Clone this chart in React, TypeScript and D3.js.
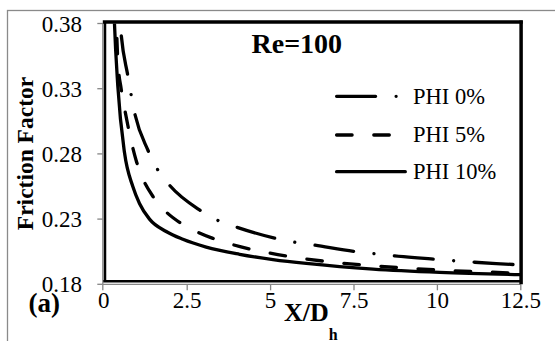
import React, { useRef, useEffect } from 'react';
import * as d3 from 'd3';

// [X/Dh, friction factor]
const phi0: [number, number][] = [
  [0.45, 0.395], [0.52, 0.372], [0.72, 0.340], [0.80, 0.328], [0.92, 0.312],
  [1.32, 0.283], [1.59, 0.269], [1.97, 0.256], [2.87, 0.237], [3.42, 0.229],
  [4.02, 0.2235], [5.12, 0.2154], [5.72, 0.2123], [6.32, 0.2100], [7.52, 0.2052],
  [8.12, 0.2034], [8.72, 0.2018], [9.92, 0.1992], [10.52, 0.1980], [11.12, 0.1969],
  [12.32, 0.1951], [12.5, 0.1948],
];
const phi5: [number, number][] = [
  [0.36, 0.395], [0.42, 0.352], [0.52, 0.330], [0.60, 0.318], [0.72, 0.302],
  [0.82, 0.290], [0.97, 0.275], [1.17, 0.261], [1.47, 0.2475], [1.87, 0.2355],
  [2.27, 0.2275], [2.77, 0.2205], [3.27, 0.2152], [3.82, 0.2107], [4.37, 0.2071],
  [4.92, 0.2042], [5.47, 0.2017], [6.02, 0.1996], [6.57, 0.1978], [7.12, 0.1963],
  [7.67, 0.1950], [8.27, 0.1938], [8.82, 0.1928], [9.37, 0.1919], [9.92, 0.1911],
  [11.57, 0.1893], [12.5, 0.1885],
];
const phi10: [number, number][] = [
  [0.30, 0.395], [0.32, 0.38], [0.42, 0.332], [0.62, 0.281], [0.87, 0.255],
  [1.07, 0.242], [1.37, 0.230], [1.87, 0.2205], [2.37, 0.2145], [3.07, 0.2085],
  [4.07, 0.2030], [5.07, 0.1990], [6.07, 0.1960], [7.07, 0.1936], [8.07, 0.1917],
  [10.07, 0.1892], [12.5, 0.1874],
];

const xTicks = [0, 2.5, 5, 7.5, 10, 12.5];
const yTicks = [0.18, 0.23, 0.28, 0.33, 0.38];
const seriesNames = ['PHI 0%', 'PHI 5%', 'PHI 10%'];
const dashes = ['39,20.5,0.01,20.5', '15.5,21.7', null];
const periods = [80.01, 37.2, 0];
// where a dot (PHI 0%) / a dash start (PHI 5%) sits in the figure
const phaseAnchor = [3.42, 1.87, 0];
const phasePos = [59.5, 37.2 - 1.65, 0];

const serif = "'Liberation Serif', 'Times New Roman', serif";

const App = () => {
  const svgRef = useRef<SVGSVGElement>(null);

  useEffect(() => {
    const width = 555;
    const height = 341;
    const svg = d3.select(svgRef.current)
      .attr('width', width)
      .attr('height', height)
      .style('font-family', serif);
    svg.selectAll('*').remove();

    svg.append('rect').attr('width', width).attr('height', height).attr('fill', '#fff');

    // outer chart frame (runs off the picture at right and bottom)
    svg.append('rect')
      .attr('x', 7.5).attr('y', 10.5)
      .attr('width', 600).attr('height', 400)
      .attr('fill', 'none').attr('stroke', '#8a8a8a').attr('stroke-width', 1.3);

    const x = d3.scaleLinear().domain([0, 12.5]).range([103.8, 520.8]);
    const y = d3.scaleLinear().domain([0.18, 0.38]).range([284.3, 23.5]);

    const gray = '#868686';
    const x0 = x(0), x1 = x(12.5), yb = y(0.18), yt = y(0.38);

    // gray axes
    svg.append('line').attr('x1', x0 - 1).attr('x2', x0 - 1).attr('y1', yt).attr('y2', yb)
      .attr('stroke', gray).attr('stroke-width', 1.3);
    svg.append('line').attr('x1', x0 - 1).attr('x2', x1).attr('y1', yb).attr('y2', yb)
      .attr('stroke', gray).attr('stroke-width', 1.3);

    svg.append('g').selectAll('line').data(yTicks).enter().append('line')
      .attr('x1', x0 - 6.5).attr('x2', x0 - 1)
      .attr('y1', d => y(d)).attr('y2', d => y(d))
      .attr('stroke', gray).attr('stroke-width', 1.3);
    svg.append('g').selectAll('line').data(xTicks).enter().append('line')
      .attr('x1', d => x(d) - (d === 0 ? 1 : 0)).attr('x2', d => x(d) - (d === 0 ? 1 : 0))
      .attr('y1', yb).attr('y2', yb + 6)
      .attr('stroke', gray).attr('stroke-width', 1.3);

    // tick labels
    svg.append('g').selectAll('text').data(yTicks).enter().append('text')
      .attr('x', 82).attr('y', d => y(d) + 8)
      .attr('text-anchor', 'end')
      .style('font-size', '23px')
      .text(d => d.toFixed(2));
    svg.append('g').selectAll('text').data(xTicks).enter().append('text')
      .attr('x', d => x(d)).attr('y', 308.3)
      .attr('text-anchor', 'middle')
      .style('font-size', '23px')
      .text(d => String(d));

    // black plot border
    const border = svg.append('g').attr('stroke', '#000').attr('fill', 'none');
    border.append('line').attr('x1', x0 - 1).attr('x2', x1 + 2).attr('y1', yt - 1.5).attr('y2', yt - 1.5).attr('stroke-width', 3.5);
    border.append('line').attr('x1', x1 + 0.3).attr('x2', x1 + 0.3).attr('y1', yt - 3).attr('y2', yb).attr('stroke-width', 3.5);
    border.append('line').attr('x1', x0 + 1.2).attr('x2', x0 + 1.2).attr('y1', yt - 1.5).attr('y2', yb - 2.5).attr('stroke-width', 2.5);
    border.append('line').attr('x1', x0 - 0.5).attr('x2', x1).attr('y1', yb - 3).attr('y2', yb - 3).attr('stroke-width', 2.5);

    // curves
    svg.append('clipPath').attr('id', 'plotClip')
      .append('rect')
      .attr('x', x0 + 2).attr('y', yt)
      .attr('width', x1 - x0 - 2).attr('height', yb - yt - 4);

    const line = d3.line<[number, number]>()
      .x(d => x(d[0]))
      .y(d => y(d[1]))
      .curve(d3.curveMonotoneX);

    // arc length along a path at which it reaches a given x
    const lengthAtX = (node: SVGPathElement, tx: number) => {
      let lo = 0;
      let hi = node.getTotalLength();
      for (let k = 0; k < 40; k++) {
        const mid = (lo + hi) / 2;
        if (node.getPointAtLength(mid).x < tx) lo = mid; else hi = mid;
      }
      return lo;
    };

    const plot = svg.append('g').attr('clip-path', 'url(#plotClip)');
    [phi0, phi5, phi10].forEach((s, i) => {
      const p = plot.append('path')
        .datum(s)
        .attr('d', line)
        .attr('fill', 'none')
        .attr('stroke', '#000')
        .attr('stroke-width', 3.3)
        .attr('stroke-linecap', 'round')
        .attr('stroke-dasharray', dashes[i]);
      if (dashes[i]) {
        const node = p.node() as SVGPathElement;
        const at = lengthAtX(node, x(phaseAnchor[i]));
        const P = periods[i];
        const off = (((phasePos[i] - at) % P) + P) % P;
        p.attr('stroke-dashoffset', off);
      }
    });

    // legend
    const legendY = [96.3, 135, 171.7];
    seriesNames.forEach((name, i) => {
      svg.append('line')
        .attr('x1', 336.6).attr('x2', 405.3)
        .attr('y1', legendY[i]).attr('y2', legendY[i])
        .attr('stroke', '#000').attr('stroke-width', 3.3)
        .attr('stroke-linecap', 'round')
        .attr('stroke-dasharray', dashes[i]);
      svg.append('text')
        .attr('x', 413).attr('y', legendY[i] + 7.3)
        .style('font-size', '22.5px')
        .text(name);
    });

    svg.append('text')
      .attr('x', 251.5).attr('y', 53.3)
      .style('font-size', '28px').style('font-weight', 'bold')
      .text('Re=100');

    // axis titles
    svg.append('text')
      .attr('transform', 'translate(33.3,153.5) rotate(-90)')
      .attr('text-anchor', 'middle')
      .style('font-size', '23.5px').style('font-weight', 'bold')
      .text('Friction Factor');

    const xt = svg.append('text')
      .attr('x', 284).attr('y', 320.7)
      .style('font-size', '26px').style('font-weight', 'bold');
    xt.append('tspan').text('X/D');
    xt.append('tspan').attr('dy', 18.8).style('font-size', '16px').text('h');

    svg.append('text')
      .attr('x', 44.2).attr('y', 311.7)
      .attr('text-anchor', 'middle')
      .style('font-size', '27px').style('font-weight', 'bold')
      .text('(a)');
  }, []);

  return <svg ref={svgRef} style={{ position: 'absolute', left: 0, top: 0 }}></svg>;
};

export default App;
